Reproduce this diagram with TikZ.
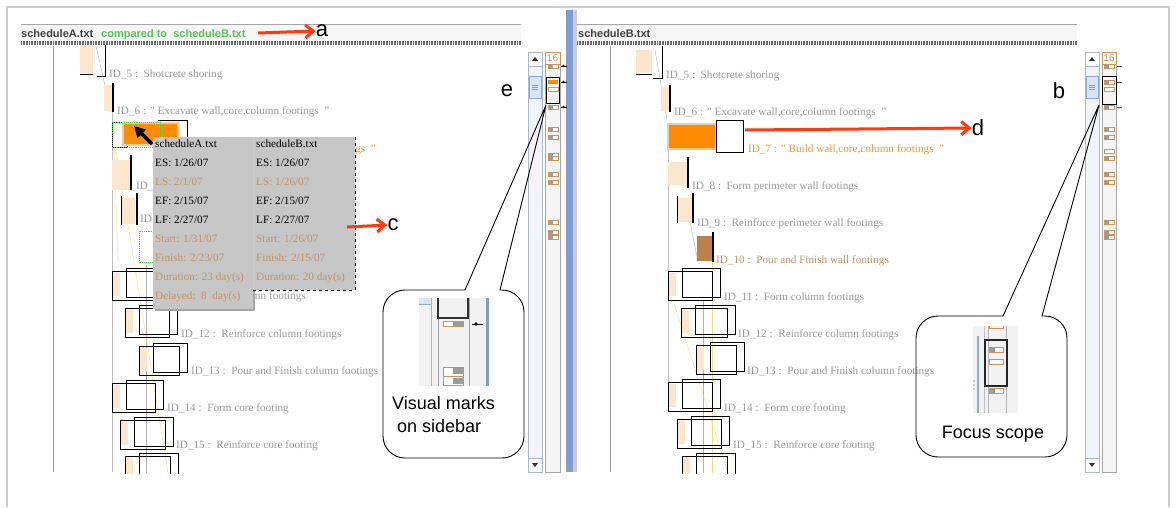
\documentclass[tikz,border=0pt]{standalone}
\usepackage{fontspec}
\setmainfont{Liberation Serif}
\newfontfamily\hsans{Liberation Sans}
\usetikzlibrary{arrows.meta}
\definecolor{lblgray}{HTML}{9A9A9A}
\definecolor{beigec}{HTML}{FCE6CC}
\definecolor{orangec}{HTML}{FF8C00}
\definecolor{haloc}{HTML}{F2C9A0}
\definecolor{tanc}{HTML}{C8955A}
\definecolor{tantext}{HTML}{C49462}
\definecolor{orlbl}{HTML}{E89A3C}
\definecolor{brownc}{HTML}{BC8048}
\definecolor{tipgray}{HTML}{C6C6C6}
\definecolor{greenc}{HTML}{3DD03D}
\definecolor{hdrgreen}{HTML}{55C455}
\definecolor{redc}{HTML}{FF3A12}
\definecolor{framec}{HTML}{CCCCCC}
\definecolor{sbborder}{HTML}{A7B8D0}
\definecolor{sbfill}{HTML}{F1F4F9}
\definecolor{thumbc}{HTML}{D6E5F8}
\definecolor{thumbb}{HTML}{8FAAD3}
\definecolor{divblue}{HTML}{7F9DD2}
\definecolor{mkgray}{HTML}{9C9C9C}
\definecolor{yel}{HTML}{F3DF70}
\definecolor{hatchc}{HTML}{6A6A6A}
\definecolor{hdrc}{HTML}{F6F6F6}
\tikzset{
  idlbl/.style={anchor=base west, inner sep=0pt, font=\fontsize{11.2}{12}\selectfont, text=lblgray},
  tiptxt/.style={anchor=base west, inner sep=0pt, font=\fontsize{11.2}{12}\selectfont, text=black},
  tiptan/.style={tiptxt, text=tantext},
  hdr/.style={anchor=base west, inner sep=0pt, font=\hsans\bfseries\fontsize{11}{12}\selectfont, text=black!75},
  letter/.style={inner sep=0pt, font=\hsans\fontsize{22}{24}\selectfont},
  calltxt/.style={inner sep=0pt, font=\hsans\fontsize{18}{23}\selectfont, align=left},
  redarrow/.style={draw=redc, line width=3pt, -{Straight Barb[length=8pt,width=13pt,line width=3pt]}},
  blackbar/.style={draw=black, line width=1.4pt},
  thin/.style={draw=black, line width=0.7pt},
  callout/.style={draw=black, line width=0.9pt},
  sbm/.pic={\fill[white](0,-2)rectangle(10,2);\fill[mkgray](0,-2)rectangle(5,2);\draw[tanc,line width=.7pt](0,-2)rectangle(10,2);},
  sbw/.pic={\fill[white](0,-2)rectangle(10,2);\draw[tanc,line width=.7pt](0,-2)rectangle(10,2);},
  sbo/.pic={\fill[orangec](0,-2)rectangle(10,2);},
  tickmark/.pic={\draw[black,line width=0.7pt](0,0)--(6,0);\fill[black](2.5,0)circle(1.3);}
}
\newcommand\treebox[3]{%
  \draw[thin] (#1,#2+3) rectangle (#1+#3-8,#2+32);
  \draw[thin] (#1+14,#2) rectangle (#1+#3,#2+29);
  \fill[beigec] (#1+1,#2+5) rectangle (#1+8,#2+28);
}
\newcommand\scrollbarat[1]{%
  \draw[sbborder, fill=sbfill] (#1,52) rectangle (#1+14,472);
  \draw[sbborder, fill=white] (#1,52) rectangle (#1+14,66);
  \fill[black!80] (#1+4,61) -- (#1+10,61) -- (#1+7,57) -- cycle;
  \draw[sbborder, fill=white] (#1,458) rectangle (#1+14,472);
  \fill[black!80] (#1+4,463) -- (#1+10,463) -- (#1+7,467) -- cycle;
  \draw[thumbb, fill=thumbc] (#1+1,76) rectangle (#1+13,98);
  \foreach \gy in {85,87,89} {\draw[black!40] (#1+4,\gy) -- (#1+10,\gy);}
}
\begin{document}
\begin{tikzpicture}[x=1pt,y=-1pt]
\useasboundingbox (0,0) rectangle (1176,507);
\fill[white] (0,0) rectangle (1176,507);
\draw[framec, line width=1.5pt] (7,507) -- (7,7) -- (1169,7) -- (1169,507);

% ---------- headers ----------
\fill[hdrc] (21,24) rectangle (521,41);
\draw[black!35] (21,24) -- (521,24);
\draw[hatchc, line width=3.5pt, dash pattern=on 0.8pt off 0.8pt] (21,43) -- (521,43);
\node[hdr] (hA) at (21,37) {scheduleA.txt};
\node[hdr, text=hdrgreen] (hcmp) at (101,37) {compared to\ \ scheduleB.txt};
\fill[hdrc] (577,24) rectangle (1077,41);
\draw[black!35] (577,24) -- (1077,24);
\draw[hatchc, line width=3.5pt, dash pattern=on 0.8pt off 0.8pt] (577,43) -- (1077,43);
\node[hdr] (hB) at (578,37) {scheduleB.txt};

% divider
\fill[divblue] (566,10) rectangle (573,472);
\fill[black!20] (573,10) rectangle (577,472);

% ---------- left panel tree ----------
\draw[black!40] (53,46) -- (53,472);
\begin{scope}
\clip (54,45) rectangle (527,473);
\draw[black!25] (112,112) -- (112,472);
\draw[black!30] (146,265) -- (146,473);
\draw[yel] (116,150) -- (168,473);
\draw[yel] (113,112) -- (118,262);
% ID_5
\fill[beigec] (80,45) rectangle (93,73);
\draw[thin] (80,74) -- (93,74);
\draw[thin] (97,76) -- (105,76) -- (105,45);
\draw[black!30] (96,46) -- (111,112);
\node[idlbl] (l5) at (109,77) {ID\_5 :\ \ Shotcrete shoring};
% ID_6
\fill[beigec] (104,85) rectangle (112,111);
\draw[blackbar] (113,83) -- (113,112);
\node[idlbl] (l6) at (117,114) {ID\_6 : " Excavate wall,core,column footings\ \ "};
% ID_7
\draw[thin] (112,122) rectangle (127,147);
\draw[thin] (158,120) -- (187,120) -- (187,147);
\draw[haloc, line width=1.5pt, fill=orangec] (123,123) rectangle (178,145);
\draw[greenc, line width=0.9pt, densely dotted] (112,122) rectangle (160,147);
\node[idlbl, anchor=base east, text=orlbl] (l7) at (376,152) {tings\ \ "};
% ID_8
\fill[beigec] (112,160) rectangle (130,190);
\draw[blackbar] (131,155) -- (131,190);
\node[idlbl] (l8) at (136,189) {ID\_};
% ID_9
\fill[beigec] (121,198) rectangle (135,224);
\draw[thin] (121,196) -- (121,225);
\draw[blackbar] (137,193) -- (137,225);
\node[idlbl] (l9) at (140,222) {ID};
\draw[greenc, line width=0.9pt, densely dotted] (156,231) -- (139,231) -- (139,262) -- (156,262);
% ID_11..16
\treebox{112}{268}{78}
\node[idlbl, anchor=base east] (l11) at (306,299) {umn footings};
\treebox{125}{305}{52}
\node[idlbl] (l12) at (181,337) {ID\_12 :\ \ Reinforce column footings};
\treebox{139}{343}{48}
\node[idlbl] (l13) at (191,374) {ID\_13 :\ \ Pour and Finish column footings};
\treebox{112}{380}{51}
\node[idlbl] (l14) at (167,411) {ID\_14 :\ \ Form core footing};
\treebox{120}{417}{53}
\node[idlbl] (l15) at (176,448) {ID\_15 :\ \ Reinforce core footing};
\treebox{125}{453}{53}
\end{scope}

% cursor
\fill[black] (134,126) -- (146.0,129.6) -- (143.1,132.5) -- (153.3,142.7) -- (150.7,145.3) -- (140.5,135.1) -- (137.5,138.0) -- cycle;

% tooltip
\fill[black!35] (155,139) rectangle (255,311);
\fill[tipgray] (153,137) rectangle (253,309);
\fill[tipgray] (253,137) rectangle (355,290);
\draw[white!80!black, line width=0.8pt] (253.5,137) -- (253.5,290);
\draw[black, line width=0.8pt, dashed] (355,137) -- (355,290) -- (253,290);
\node[tiptxt] (tA0) at (155,147) {scheduleA.txt};
\node[tiptxt] (tA1) at (155,166) {ES: 1/26/07};
\node[tiptan] (tA2) at (155,185) {LS: 2/1/07};
\node[tiptxt] (tA3) at (155,204) {EF: 2/15/07};
\node[tiptxt] (tA4) at (155,223) {LF: 2/27/07};
\node[tiptan] (tA5) at (155,242) {Start: 1/31/07};
\node[tiptan] (tA6) at (155,261) {Finish: 2/23/07};
\node[tiptan] (tA7) at (155,280) {Duration: 23 day(s)};
\node[tiptan] (tA8) at (155,299) {Delayed:\ \ 8\ \ day(s)};
\node[tiptxt] (tB0) at (256,147) {scheduleB.txt};
\node[tiptxt] (tB1) at (256,166) {ES: 1/26/07};
\node[tiptan] (tB2) at (256,185) {LS: 1/26/07};
\node[tiptxt] (tB3) at (256,204) {EF: 2/15/07};
\node[tiptxt] (tB4) at (256,223) {LF: 2/27/07};
\node[tiptan] (tB5) at (256,242) {Start: 1/26/07};
\node[tiptan] (tB6) at (256,261) {Finish: 2/15/07};
\node[tiptan] (tB7) at (256,280) {Duration: 20 day(s)};

% ---------- left scrollbar & sidebar ----------
\scrollbarat{528}
\draw[black!35, fill=black!4] (545,52) rectangle (560,472);
\draw[tanc, fill=white] (545,52) rectangle (560,64);
\node[inner sep=0pt, font=\hsans\fontsize{10}{10}\selectfont, text=tanc] (s16L) at (552.5,58.5) {16};
\foreach \yy in {66,107,129,137,155,158,174,182,222,232,237} {\pic at (548,\yy) {sbm};}
\pic at (548,82) {sbo};
\pic at (548,89) {sbw};
\draw[black, line width=0.9pt] (546,77) rectangle (559,103);
\foreach \yy in {66,82,107} {\pic at (561,\yy) {tickmark};}

% ---------- right panel tree ----------
\draw[black!40] (610,46) -- (610,472);
\begin{scope}
\clip (611,45) rectangle (1084,473);
\draw[black!25] (668,125) -- (668,412);
\draw[black!30] (703,300) -- (703,473);
\draw[yel] (712,262) -- (712,473);
\draw[yel] (673,300) -- (728,473);
\draw[green!60!black!50] (690,222) -- (698,262);
% ID_5
\fill[beigec] (636,50) rectangle (652,73);
\draw[thin] (636,74) -- (652,74);
\draw[thin] (653,78) -- (662,78) -- (662,46);
\draw[black!30] (655,50) -- (667,120);
\node[idlbl] (r5) at (666,78) {ID\_5 :\ \ Shotcrete shoring};
% ID_6
\fill[beigec] (661,87) rectangle (669,111);
\draw[blackbar] (670,85) -- (670,112);
\node[idlbl] (r6) at (674,115) {ID\_6 : " Excavate wall,core,column footings\ \ "};
% ID_7
\draw[haloc, line width=1.8pt, fill=orangec] (668,124) rectangle (716,149);
\draw[thin, fill=white] (716,120) rectangle (743,152);
\node[idlbl, text=orlbl] (r7) at (748,152) {ID\_7 : " Build wall,core,column footings\ \ "};
% ID_8
\fill[beigec] (668,162) rectangle (687,185);
\draw[blackbar] (688,157) -- (688,188);
\node[idlbl] (r8) at (692,189) {ID\_8 :\ \ Form perimeter wall footings};
% ID_9
\fill[beigec] (677,198) rectangle (692,222);
\draw[thin] (677,196) -- (677,223);
\draw[blackbar] (693,193) -- (693,223);
\node[idlbl] (r9) at (697,226) {ID\_9 :\ \ Reinforce perimeter wall footings};
% ID_10
\fill[brownc] (697,236) rectangle (712,261);
\draw[blackbar] (713,232) -- (713,262);
\node[idlbl, text=tantext] (r10) at (716,263) {ID\_10 :\ \ Pour and Finish wall footings};
% ID_11..16
\treebox{668}{268}{52}
\node[idlbl] (r11) at (724,300) {ID\_11 :\ \ Form column footings};
\treebox{681}{305}{54}
\node[idlbl] (r12) at (738,337) {ID\_12 :\ \ Reinforce column footings};
\treebox{696}{342}{48}
\node[idlbl] (r13) at (747,374) {ID\_13 :\ \ Pour and Finish column footings};
\treebox{668}{379}{52}
\node[idlbl] (r14) at (724,411) {ID\_14 :\ \ Form core footing};
\treebox{677}{416}{52}
\node[idlbl] (r15) at (733,448) {ID\_15 :\ \ Reinforce core footing};
\treebox{682}{453}{53}
\end{scope}

% ---------- right scrollbar & sidebar ----------
\scrollbarat{1085}
\draw[black!35, fill=black!4] (1102,52) rectangle (1116,472);
\draw[tanc, fill=white] (1102,52) rectangle (1116,64);
\node[inner sep=0pt, font=\hsans\fontsize{10}{10}\selectfont, text=tanc] (s16R) at (1109,58.5) {16};
\foreach \yy in {66,82,107,129,137,158,174,182,222,232,237} {\pic at (1104,\yy) {sbm};}
\pic at (1104,89) {sbw};
\pic at (1104,151) {sbw};
\draw[black, line width=0.9pt] (1102,76) rectangle (1116,104);
\foreach \yy in {66,82,107} {\draw[black!70, line width=0.7pt] (1117,\yy) -- (1122,\yy);}

% ---------- letters and red arrows ----------
\node[letter] (la) at (322,31) {a};
\coordinate (aS) at (258,33);
\draw[redarrow] (aS) -- (la.west);
\node[letter] (lc) at (393,225) {c};
\coordinate (cS) at (347,227);
\draw[redarrow] (cS) -- (lc.west);
\node[letter] (ld) at (978,128) {d};
\coordinate (dS) at (745,130);
\draw[redarrow] (dS) -- (ld.west);
\node[letter] (le) at (507,91) {e};
\node[letter] (lb) at (1059,91) {b};

% ---------- callout: visual marks ----------
\coordinate (tipE) at (546,105);
\draw[callout] (465,290) -- (tipE) -- (500,290) -- (502,290) [rounded corners=22pt] -- (524,290) -- (524,458) -- (383,458) -- (383,290) -- (440,290) [sharp corners] -- cycle;
\begin{scope}
\fill[black!5] (419,298) rectangle (489,386);
\fill[thumbc] (419,298) rectangle (431,304);
\draw[thumbb] (419,304) -- (431,304);
\draw[black!30, line width=1pt] (431,298) -- (431,386);
\draw[black!35, line width=1pt] (438,298) -- (438,386);
\draw[black!35, line width=1pt] (469,298) -- (469,386);
\fill[divblue] (486,298) rectangle (489,386);
\draw[black!80, line width=1.3pt] (438,298) -- (438,318) -- (468,318) -- (468,298);
\fill[white] (443,321) rectangle (463,326);
\fill[mkgray] (453,321) rectangle (463,326);
\draw[tanc, line width=0.9pt] (443,321) rectangle (463,326);
\draw[black, line width=0.9pt] (472,324) -- (483,324);
\fill[black] (476,324) circle (1.8);
\fill[white] (443,367) rectangle (463,385);
\fill[mkgray] (453,368) rectangle (463,374);
\fill[mkgray] (453,378) rectangle (463,384);
\draw[tanc, line width=0.9pt] (443,367) rectangle (463,385);
\draw[tanc, line width=0.9pt] (443,376) -- (463,376);
\end{scope}
\node[calltxt, anchor=north west] (cvm) at (392,396) {Visual marks\\\ on sidebar};

% ---------- callout: focus scope ----------
\coordinate (tipB) at (1099,105);
\draw[callout] (1003,316) -- (tipB) -- (1042,316) -- (1044,316) [rounded corners=22pt] -- (1067,316) -- (1067,457) -- (916,457) -- (916,316) -- (980,316) [sharp corners] -- cycle;
\begin{scope}
\fill[black!5] (973,326) rectangle (1018,413);
\draw[thumbb, line width=1.5pt] (978,336) -- (978,413);
\draw[black!25, line width=1pt] (984,326) -- (984,413);
\draw[black!30, line width=1pt] (988,326) -- (988,413);
\draw[black!30, line width=1pt] (1006,326) -- (1006,413);
\draw[tanc, line width=0.9pt] (989,326) -- (989,328) -- (1003,328) -- (1003,326);
\draw[black!85, line width=1.3pt] (985,340) rectangle (1007,386);
\fill[white] (989,347) rectangle (1003,352);
\fill[mkgray] (989,347) rectangle (995,352);
\draw[tanc, line width=0.9pt] (989,347) rectangle (1003,352);
\fill[white] (989,359) rectangle (1003,364);
\draw[tanc, line width=0.9pt] (989,359) rectangle (1003,364);
\fill[white] (989,388) rectangle (1003,393);
\fill[mkgray] (989,388) rectangle (995,393);
\draw[tanc, line width=0.9pt] (989,388) rectangle (1003,393);
\foreach \dy in {381,385,389} {\fill[thumbb] (974,\dy) circle (0.8);}
\end{scope}
\node[calltxt] (cfs) at (993,434) {Focus scope};
\end{tikzpicture}
\end{document}
